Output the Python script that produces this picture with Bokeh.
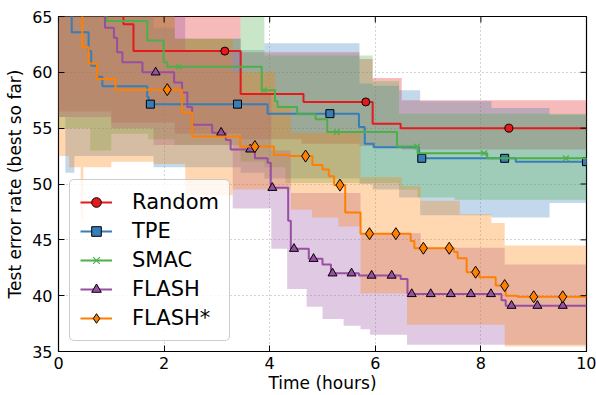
from bokeh.plotting import figure
from bokeh.models import Range1d, Legend, LegendItem, FixedTicker
from bokeh.embed import file_html
from bokeh.resources import INLINE

# ---------------- data (hours, test error %) ----------------
x_ticks = [0, 2, 4, 6, 8, 10]
y_ticks = [35, 40, 45, 50, 55, 60, 65]

# Random
rand_t = [0, 1.23, 1.42, 3.45, 4.64, 5.95, 6.48, 10]
rand_v = [66, 64.3, 61.9, 58.05, 57.35, 55.4, 55.0, 55.0]
rand_mt = [3.15, 5.82, 8.53]
rand_mv = [61.9, 57.35, 55.0]
rand_bt = [0, 1.0, 2.2, 3.45, 4.6, 5.7, 5.95, 6.5, 10]
rand_hi = [66, 66, 66, 61.8, 61.8, 61.2, 59.5, 57.5, 57.5]
rand_lo = [56.5, 55.5, 54.5, 54.0, 53.6, 53.4, 53.3, 53.1, 53.1]

# TPE
tpe_t = [0, 0.25, 0.57, 0.62, 0.73, 0.83, 1.68, 1.71, 3.96, 5.69, 5.8, 5.97, 6.83, 8.66, 10]
tpe_v = [66, 63.6, 61.9, 60.6, 59.6, 58.75, 57.8, 57.15, 56.3, 55.1, 53.6, 53.3, 52.3, 52.0, 52.0]
tpe_mt = [1.74, 3.39, 5.14, 6.88, 8.45, 10.0]
tpe_mv = [57.15, 57.15, 56.3, 52.3, 52.3, 52.0]
tpe_bt = [0, 0.13, 0.3, 1.0, 1.8, 2.2, 3.45, 3.9, 5.7, 5.95, 6.45, 6.85, 8.2, 9.3, 10]
tpe_hi = [66, 66, 66, 66, 64, 63, 62.0, 62.6, 59.0, 58.8, 58.4, 57.4, 56.8, 56.2, 56.2]
tpe_lo = [56, 51.0, 52.5, 52.5, 51.5, 51.5, 51.0, 50.5, 50.0, 49.5, 48.8, 47.2, 47.0, 48.3, 48.3]

# SMAC
smac_t = [0, 0.91, 1.68, 1.99, 2.06, 3.85, 4.1, 4.15, 4.52, 4.87, 5.09, 6.41, 6.8, 8.12, 10]
smac_v = [66, 64.6, 62.85, 60.9, 60.5, 58.4, 57.4, 56.9, 56.25, 55.8, 54.65, 53.35, 52.75, 52.3, 52.3]
smac_mt = [2.28, 3.89, 5.27, 6.79, 8.06, 9.61]
smac_mv = [60.5, 58.4, 54.65, 53.35, 52.75, 52.3]
smac_bt = [0, 0.6, 1.0, 1.7, 2.2, 3.45, 3.9, 4.3, 5.95, 6.45, 6.8, 7.5, 10]
smac_hi = [66, 66, 66, 66, 63.0, 65, 61.5, 61.5, 59.2, 56.3, 56.3, 56.3, 56.3]
smac_lo = [55, 53, 54.5, 54, 53.5, 52, 51.5, 50.1, 50.1, 49.5, 48.8, 48.6, 48.6]

# FLASH
flash_t = [0, 0.88, 1.05, 1.11, 1.21, 1.59, 2.19, 2.34, 2.44, 2.53, 2.91, 3.17, 3.26, 3.72,
           3.96, 4.02, 4.35, 4.4, 4.74, 5.0, 5.16, 5.69, 6.48, 6.61, 8.39, 8.47, 10]
flash_v = [66, 64.0, 63.1, 61.8, 60.9, 60.0, 59.1, 58.2, 56.9, 55.3, 54.6, 53.95, 53.1, 52.3,
           51.9, 49.66, 46.7, 44.2, 43.3, 42.8, 42.0, 41.8, 41.5, 40.15, 39.6, 39.1, 39.1]
flash_mt = [1.84, 3.08, 3.63, 4.05, 4.46, 4.83, 5.19, 5.55, 5.93, 6.31, 6.69, 7.05, 7.43,
            7.81, 8.19, 8.58, 9.07, 9.55]
flash_mv = [60.0, 54.6, 53.1, 49.66, 44.2, 43.3, 42.0, 42.0, 41.8, 41.8, 40.15, 40.15, 40.15,
            40.15, 40.15, 39.1, 39.1, 39.1]
flash_bt = [0, 1.0, 1.8, 2.4, 3.3, 3.45, 4.03, 4.33, 4.4, 4.7, 5.0, 5.4, 5.72, 5.9, 6.6, 6.86, 8.45, 10]
flash_hi = [66, 66, 66, 62, 62, 58, 53, 53, 49.2, 49.2, 49.2, 49.2, 45.6, 45.6, 45.6, 44.3, 42.8, 42.8]
flash_lo = [56, 55, 53.5, 53.5, 47.8, 47.8, 44.2, 40.6, 40.6, 39.0, 37.9, 37.3, 37.0, 36.5, 35.6, 35.6, 35.6, 35.6]

# FLASH*
fstar_t = [0, 0.45, 0.57, 0.73, 1.08, 2.34, 2.53, 3.44, 4.08, 4.37, 4.81, 5.0, 5.12, 5.22,
           5.43, 5.72, 6.67, 6.74, 7.49, 7.56, 7.73, 7.97, 8.28, 8.47, 8.69, 10]
fstar_v = [66, 62.25, 60.8, 59.4, 58.45, 56.4, 54.25, 53.35, 52.6, 52.5, 51.7, 51.3, 50.7, 49.9,
           47.45, 45.55, 44.9, 44.25, 43.9, 43.35, 42.1, 41.65, 40.9, 40.0, 39.9, 39.9]
fstar_mt = [2.06, 3.72, 4.68, 5.33, 5.89, 6.39, 6.91, 7.4, 7.9, 8.45, 9.0, 9.55]
fstar_mv = [58.45, 53.35, 52.5, 49.9, 45.55, 45.55, 44.25, 44.25, 42.1, 40.9, 39.9, 39.9]
fstar_bt = [0, 0.2, 0.42, 0.47, 1.0, 1.8, 2.2, 2.4, 3.3, 4.1, 4.4, 4.8, 5.3, 5.72, 6.5, 6.6, 6.86,
            7.6, 8.2, 8.45, 10]
fstar_hi = [66, 66, 66, 66, 66, 66, 63, 63, 60, 57, 54.6, 54.6, 54.6, 50.6, 49.8, 49.8, 48.5,
            47.3, 46.5, 44.5, 44.5]
fstar_lo = [52.5, 51.5, 46.8, 51.5, 52.0, 51.8, 51.8, 49.0, 49.5, 49.5, 47.7, 47.0, 46.2, 40.2,
            40.2, 37.4, 37.4, 37.4, 37.4, 35.45, 35.45]

series = [
    ("Random", "#e41a1c", "circle", rand_t, rand_v, rand_mt, rand_mv, rand_bt, rand_lo, rand_hi),
    ("TPE", "#377eb8", "square", tpe_t, tpe_v, tpe_mt, tpe_mv, tpe_bt, tpe_lo, tpe_hi),
    ("SMAC", "#4daf4a", "x", smac_t, smac_v, smac_mt, smac_mv, smac_bt, smac_lo, smac_hi),
    ("FLASH", "#984ea3", "triangle", flash_t, flash_v, flash_mt, flash_mv, flash_bt, flash_lo, flash_hi),
    ("FLASH*", "#ff7f00", "diamond", fstar_t, fstar_v, fstar_mt, fstar_mv, fstar_bt, fstar_lo, fstar_hi),
]

FONT = "DejaVu Sans"
X0, X1, Y0, Y1 = 0, 10, 35, 65

p = figure(width=596, height=395, output_backend="svg", toolbar_location=None,
           x_range=Range1d(X0, X1), y_range=Range1d(Y0, Y1),
           min_border_left=58, min_border_right=10, min_border_top=16, min_border_bottom=42)
p.background_fill_color = "white"
p.outline_line_color = "black"
p.outline_line_width = 1.2

# bands
for name, col, mk, t, v, mt, mv, bt, lo, hi in series:
    p.varea_step(x=bt, y1=lo, y2=hi, step_mode="after", fill_color=col, fill_alpha=0.3)

items = []
for name, col, mk, t, v, mt, mv, bt, lo, hi in series:
    lr = p.step(x=t, y=v, mode="after", line_color=col, line_width=2)
    if mk == "x":
        sr = p.scatter(x=mt, y=mv, marker="x", size=8, line_color=col, line_width=1.2)
    elif mk == "diamond":
        sr = p.scatter(x=mt, y=mv, marker="diamond", size=12, fill_color=col,
                       line_color="black", line_width=1)
    elif mk == "triangle":
        sr = p.scatter(x=mt, y=mv, marker="triangle", size=9, fill_color=col,
                       line_color="black", line_width=1)
    else:
        sr = p.scatter(x=mt, y=mv, marker=mk, size=8, fill_color=col,
                       line_color="black", line_width=1)
    items.append(LegendItem(label=name, renderers=[lr, sr]))

# inward ticks on the top and right frame edges (from the tick lists)
tick_dx = (X1 - X0) * 6 / 527.0
tick_dy = (Y1 - Y0) * 6 / 337.0
p.segment(x0=x_ticks, y0=[Y1] * len(x_ticks), x1=x_ticks, y1=[Y1 - tick_dy] * len(x_ticks),
          line_color="black", line_width=1)
p.segment(x0=[X1] * len(y_ticks), y0=y_ticks, x1=[X1 - tick_dx] * len(y_ticks), y1=y_ticks,
          line_color="black", line_width=1)

# axes
p.xaxis.ticker = FixedTicker(ticks=x_ticks)
p.yaxis.ticker = FixedTicker(ticks=y_ticks)
for ax in (p.xaxis[0], p.yaxis[0]):
    ax.major_tick_in = 6
    ax.major_tick_out = 0
    ax.minor_tick_line_color = None
    ax.axis_line_color = None
    ax.major_label_text_font = FONT
    ax.major_label_text_font_size = "16px"
    ax.major_label_text_color = "black"
    ax.axis_label_text_font = FONT
    ax.axis_label_text_font_size = "17px"
    ax.axis_label_text_font_style = "normal"
    ax.axis_label_text_color = "black"
p.xaxis.axis_label = "Time (hours)"
p.yaxis.axis_label = "Test error rate (best so far)"
p.xaxis.major_label_standoff = 5
p.xaxis.axis_label_standoff = 1
p.yaxis.major_label_standoff = 6
p.yaxis.axis_label_standoff = 4

# grid
p.xgrid.grid_line_color = "#888888"
p.ygrid.grid_line_color = "#888888"
p.xgrid.grid_line_dash = "1 3"
p.ygrid.grid_line_dash = "1 3"
p.xgrid.grid_line_alpha = 0.7
p.ygrid.grid_line_alpha = 0.7

legend = Legend(items=items, location=(11, 10))
legend.label_text_font = FONT
legend.label_text_font_size = "21px"
legend.label_text_color = "black"
legend.glyph_width = 32
legend.glyph_height = 24
legend.label_height = 24
legend.label_standoff = 20
legend.spacing = 5
legend.padding = 10
legend.margin = 0
legend.border_line_color = "#999999"
legend.border_line_width = 1
legend.background_fill_alpha = 0.8
if "border_radius" in Legend.properties():
    legend.border_radius = 5
p.add_layout(legend, "center")

open("out.html", "w").write(file_html(p, INLINE))
